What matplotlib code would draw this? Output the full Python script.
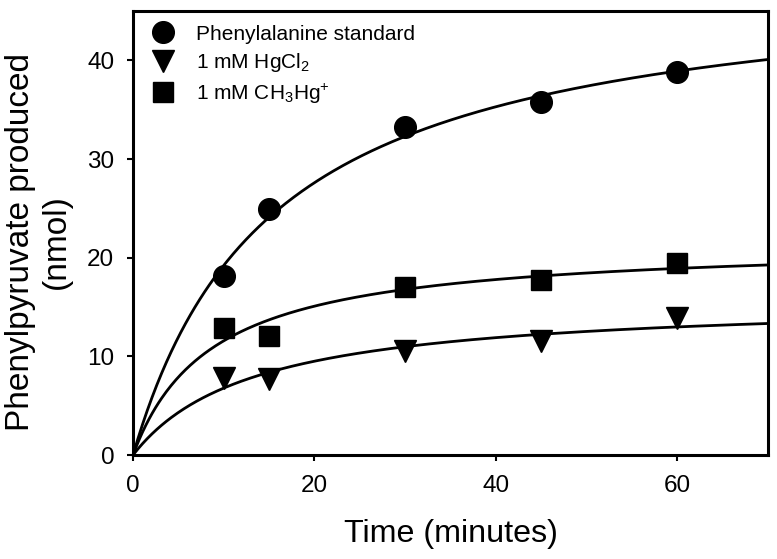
import numpy as np
import matplotlib
matplotlib.use("Agg")
import matplotlib.pyplot as plt

plt.rcParams["font.family"] = ["Liberation Sans", "DejaVu Sans"]
plt.rcParams["mathtext.fontset"] = "custom"
plt.rcParams["mathtext.rm"] = "Liberation Sans"
plt.rcParams["mathtext.it"] = "Liberation Sans"
plt.rcParams["mathtext.bf"] = "Liberation Sans"

# data
time_min = [10, 15, 30, 45, 60]
phe_standard = [18.1, 24.9, 33.2, 35.8, 38.8]
hgcl2 = [7.8, 7.7, 10.5, 11.6, 13.9]
ch3hg = [12.9, 12.1, 17.0, 17.7, 19.5]

labels = ["Phenylalanine standard", r"1 mM HgCl$_2$", r"1 mM CH$_3$Hg$^{+}$"]
markers = ["o", "v", "s"]
marker_sizes = [15.6, 16, 14.5]


def fit_hyperbola(x, y):
    """least squares fit of y = a*x/(b+x), grid over b"""
    x = np.asarray(x, float)
    y = np.asarray(y, float)
    best = None
    for b in np.linspace(0.5, 60, 2000):
        f = x / (b + x)
        a = np.dot(f, y) / np.dot(f, f)
        err = np.sum((y - a * f) ** 2)
        if best is None or err < best[0]:
            best = (err, a, b)
    return best[1], best[2]


fig = plt.figure(figsize=(7.77, 5.59), dpi=100)
ax = fig.add_axes([0.1712, 0.186, 0.8172, 0.7943])

xs = np.linspace(0, 70, 400)
handles = []
for ys, m, ms, lab in zip([phe_standard, hgcl2, ch3hg], markers, marker_sizes, labels):
    a, b = fit_hyperbola(time_min, ys)
    ax.plot(xs, a * xs / (b + xs), color="black", lw=2.0, zorder=2)
    h, = ax.plot(time_min, ys, linestyle="none", marker=m, markersize=ms,
                 color="black", zorder=3, label=lab)
    handles.append(h)

ax.set_xlim(0, 70)
ax.set_ylim(0, 45)
ax.set_xticks([0, 20, 40, 60])
ax.set_yticks([0, 10, 20, 30, 40])
ax.tick_params(direction="out", length=4.5, width=1.5, labelsize=17.5)
ax.tick_params(axis="y", pad=9)
ax.tick_params(axis="x", pad=10)
for s in ax.spines.values():
    s.set_linewidth(2.2)

ax.set_xlabel("Time (minutes)", fontsize=23.2, labelpad=16)
ax.set_ylabel("Phenylpyruvate produced\n(nmol)", fontsize=24, linespacing=1.2)
ax.yaxis.set_label_coords(-0.097, 0.48)

ax.legend(handles=handles, loc="upper left", frameon=False, fontsize=15,
          handlelength=1.0, handletextpad=1.05, labelspacing=0.36,
          borderaxespad=0.35, borderpad=0.3, bbox_to_anchor=(0.01, 1.0))

fig.savefig("out.png", dpi=100)
